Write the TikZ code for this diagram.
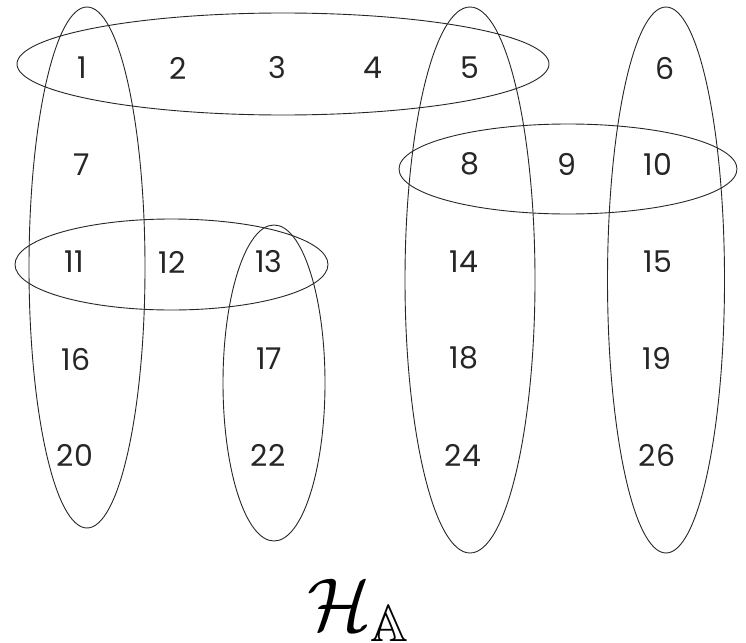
\documentclass[tikz,border=0pt]{standalone}
\usepackage{amssymb}
\usepackage{fontspec}
\setmainfont{Poppins}
\begin{document}
\begin{tikzpicture}[x=1pt,y=-1pt,
  num/.style={font=\fontsize{30}{32}\selectfont, text=black!85, inner sep=0pt},
  hedge/.style={draw=black!85, line width=0.9pt}]
\useasboundingbox (0,0) rectangle (746,642);
% numbers
\node[num] (n1)  at (82,68) {1};
\node[num] (n2)  at (178,68) {2};
\node[num] (n3)  at (277,68) {3};
\node[num] (n4)  at (373,68) {4};
\node[num] (n5)  at (470,68) {5};
\node[num] (n6)  at (665,68) {6};
\node[num] (n7)  at (82,165) {7};
\node[num] (n8)  at (470,164) {8};
\node[num] (n9)  at (567,164) {9};
\node[num] (n10) at (658,164) {10};
\node[num] (n11) at (74,262) {11};
\node[num] (n12) at (172,262) {12};
\node[num] (n13) at (269,262) {13};
\node[num] (n14) at (464,262) {14};
\node[num] (n15) at (658,262) {15};
\node[num] (n16) at (76,359) {16};
\node[num] (n17) at (269,359) {17};
\node[num] (n18) at (464,358) {18};
\node[num] (n19) at (657,358) {19};
\node[num] (n20) at (75,455) {20};
\node[num] (n22) at (268,455) {22};
\node[num] (n24) at (463,455) {24};
\node[num] (n26) at (657,455) {26};
% hyperedges
\draw[hedge] (87,267.5) ellipse [x radius=58, y radius=260.5];
\draw[hedge] (283,64) ellipse [x radius=266, y radius=51];
\draw[hedge] (470,280) ellipse [x radius=65, y radius=273];
\draw[hedge] (666,280) ellipse [x radius=58.5, y radius=273];
\draw[hedge] (568,169) ellipse [x radius=169, y radius=45];
\draw[hedge] (171.5,264.5) ellipse [x radius=156.5, y radius=45.5];
\draw[hedge] (274,383) ellipse [x radius=51, y radius=158];
% label
\node[anchor=base west, inner sep=0pt, scale=7.5] (lab) at (306,630)
  {$\mathcal{H}_{\mathbb{A}}$};
\end{tikzpicture}
\end{document}
